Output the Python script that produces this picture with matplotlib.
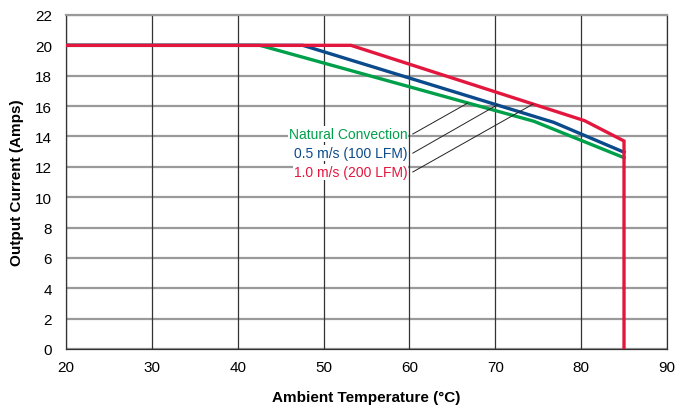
import matplotlib.pyplot as plt
from matplotlib import font_manager

# derating curves
natural_x = [20, 42.6, 74.5, 85]
natural_y = [20, 20, 15.0, 12.6]
lfm100_x = [20, 47.6, 76.8, 85]
lfm100_y = [20, 20, 14.93, 12.96]
lfm200_x = [20, 53.2, 80.4, 85, 85]
lfm200_y = [20, 20, 15.04, 13.7, 0]

labels = ['Natural Convection', '0.5 m/s (100 LFM)', '1.0 m/s (200 LFM)']
label_y = [14.16, 12.9, 11.66]
leader_end_x = [66.8, 70.3, 74.4]
leader_end_y = [16.2, 16.1, 16.13]

xticks = [20, 30, 40, 50, 60, 70, 80, 90]
yticks = list(range(0, 23, 2))

names = {f.name for f in font_manager.fontManager.ttflist}
font = 'Liberation Sans Narrow' if 'Liberation Sans Narrow' in names else 'Liberation Sans'
plt.rcParams['font.family'] = [font, 'DejaVu Sans']

green = '#00a04b'
blue = '#0b4a8b'
red = '#e3173e'

fig = plt.figure(figsize=(6.76, 4.06), dpi=100)
ax = fig.add_axes([0.0976, 0.138, 0.889, 0.8226])

for y in yticks:
    ax.axhline(y, color='#9a9a9a', lw=1.6, zorder=1)
for x in xticks:
    ax.axvline(x, color='#333333', lw=0.9, zorder=1)

ax.plot(natural_x, natural_y, color=green, lw=2.4, zorder=3)
ax.plot(lfm100_x, lfm100_y, color=blue, lw=2.4, zorder=4)
ax.plot(lfm200_x, lfm200_y, color=red, lw=2.4, zorder=5, solid_joinstyle='miter')

colors = [green, blue, red]
for lab, ly, ex, ey, c in zip(labels, label_y, leader_end_x, leader_end_y, colors):
    ax.text(59.8, ly, lab, color=c, fontsize=10, ha='right', va='center',
            zorder=6, bbox=dict(facecolor='white', edgecolor='none', pad=0.5))
    ax.plot([60.4, ex], [ly, ey], color='#222222', lw=0.7, zorder=6)

ax.set_xlim(20, 90)
ax.set_ylim(0, 22)
ax.set_xticks(xticks)
ax.set_yticks(yticks)
ax.tick_params(length=0, labelsize=11)
ax.tick_params(axis='x', pad=8)
ax.tick_params(axis='y', pad=10)
for s in ax.spines.values():
    s.set_color('#333333')
    s.set_linewidth(0.9)
ax.spines['top'].set_color('#9a9a9a')
ax.spines['top'].set_linewidth(1.6)

fig.text(0.542, 1 - 398 / 406, 'Ambient Temperature (°C)', fontsize=11,
         fontweight='bold', ha='center', va='center')
ax.set_ylabel('Output Current (Amps)', fontsize=11, fontweight='bold', labelpad=8)

fig.savefig('out.png', dpi=100)
